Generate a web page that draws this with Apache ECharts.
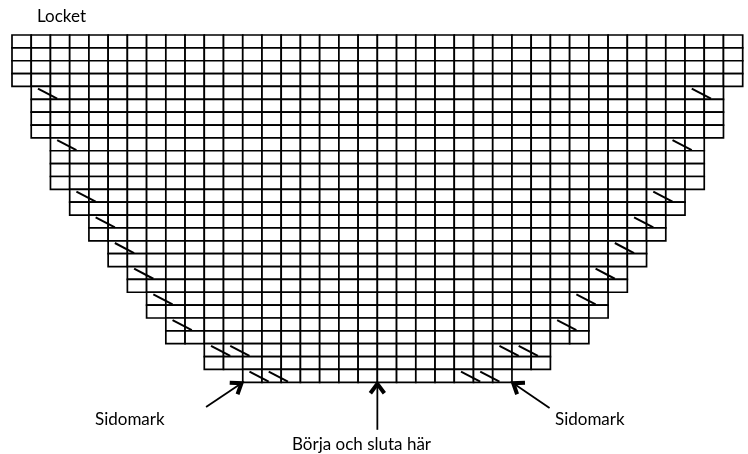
<!DOCTYPE html>
<html>
<head>
<meta charset="utf-8">
<script src="https://cdn.jsdelivr.net/npm/echarts@6/dist/echarts.min.js"></script>
<style>html,body{margin:0;padding:0;background:#fff}#c{width:748px;height:454px}</style>
</head>
<body>
<div id="c"></div>
<script>
// ---- data ----
const colCount = 38;
const rowCount = 27;
// first (inclusive) and last (exclusive) stitch column of each row, top to bottom
const rowStart = [0,0,0,0,1,1,1,1,2,2,2,2,3,3,4,4,5,5,6,6,7,7,8,8,10,10,12];
const rowEnd   = [38,38,38,38,37,37,37,37,36,36,36,36,35,35,34,34,33,33,32,32,31,31,30,30,28,28,26];
// rows (1-based, from top) with decreases, and number of decreases on each side
const decreaseRow   = [5,9,13,15,17,19,21,23,25,27];
const decreaseCount = [1,1,1,1,1,1,1,1,2,2];
const titleText  = 'Locket';
const sideLabel  = 'Sidomark';
const startLabel = 'Börja och sluta här';

// ---- derived series data ----
const cells = [];
for (let r = 0; r < rowCount; r++) {
  for (let c = rowStart[r]; c < rowEnd[r]; c++) cells.push([c, r]);
}
const marks = [];
decreaseRow.forEach((row, i) => {
  const r = row - 1;
  const n = decreaseCount[i];
  for (let k = 0; k < n; k++) {
    const ls = rowStart[r] + k + 0.35;
    marks.push([ls, r + 0.17, ls + 1, r + 0.95]);
    const rs = rowEnd[r] - 1 - n + k + 0.35;
    marks.push([rs, r + 0.17, rs + 1, r + 0.95]);
  }
});
const last = rowCount - 1;
const arrows = [
  [rowStart[last], rowCount, -36.7, 24.8],
  [(rowStart[last] + rowEnd[last]) / 2, rowCount, 0, 47.5],
  [rowEnd[last], rowCount, 37.6, 25.6]
];

const chart = echarts.init(document.getElementById('c'), null, {renderer: 'canvas'});
const font = '17px Lato';
chart.setOption({
  animation: false,
  backgroundColor: '#fff',
  grid: {left: 12, right: 5.3, top: 35, bottom: 71.7},
  xAxis: {type: 'value', min: 0, max: colCount, show: false},
  yAxis: {type: 'value', min: 0, max: rowCount, inverse: true, show: false},
  series: [
    {
      type: 'custom', data: cells, encode: {x: 0, y: 1}, clip: false,
      renderItem: function (params, api) {
        const p = api.coord([api.value(0), api.value(1)]);
        const s = api.size([1, 1]);
        return {type: 'rect', shape: {x: p[0], y: p[1], width: s[0], height: s[1]},
          style: {fill: '#fff', stroke: '#000', lineWidth: 1.7}};
      }
    },
    {
      type: 'custom', data: marks, encode: {x: [0, 2], y: [1, 3]}, clip: false,
      renderItem: function (params, api) {
        const a = api.coord([api.value(0), api.value(1)]);
        const b = api.coord([api.value(2), api.value(3)]);
        return {type: 'line', shape: {x1: a[0], y1: a[1], x2: b[0], y2: b[1]},
          style: {stroke: '#000', lineWidth: 2}};
      }
    },
    {
      type: 'custom', data: arrows, encode: {x: 0, y: 1}, clip: false,
      renderItem: function (params, api) {
        const t = api.coord([api.value(0), api.value(1)]);
        const dx = api.value(2), dy = api.value(3);
        const len = Math.sqrt(dx * dx + dy * dy);
        const ux = -dx / len, uy = -dy / len; // direction tail -> tip
        const nx = -uy, ny = ux;
        const L = 11, W = 7;
        return {type: 'group', children: [
          {type: 'line', shape: {x1: t[0] + dx, y1: t[1] + dy, x2: t[0] - ux * 2, y2: t[1] - uy * 2},
            style: {stroke: '#000', lineWidth: 1.8}},
          {type: 'polyline', shape: {points: [
            [t[0] - ux * L + nx * W, t[1] - uy * L + ny * W],
            [t[0] - ux * 1.5, t[1] - uy * 1.5],
            [t[0] - ux * L - nx * W, t[1] - uy * L - ny * W]]},
            style: {stroke: '#000', lineWidth: 4, fill: null, lineJoin: 'miter'}}
        ]};
      }
    }
  ],
  graphic: [
    {type: 'text', x: 37, y: 16.5, style: {text: titleText, font: font, fill: '#000', align: 'left', verticalAlign: 'middle'}},
    {type: 'text', x: 95, y: 419.5, style: {text: sideLabel, font: font, fill: '#000', align: 'left', verticalAlign: 'middle'}},
    {type: 'text', x: 555, y: 419.5, style: {text: sideLabel, font: font, fill: '#000', align: 'left', verticalAlign: 'middle'}},
    {type: 'text', x: 361.5, y: 444.5, style: {text: startLabel, font: font, fill: '#000', align: 'center', verticalAlign: 'middle'}}
  ]
});
</script>
</body>
</html>
